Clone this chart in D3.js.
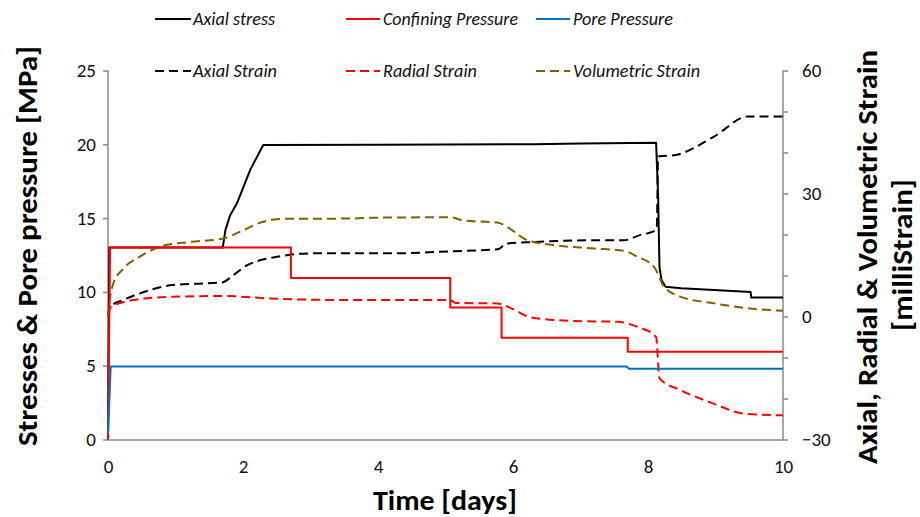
<!DOCTYPE html>
<html>
<head>
<meta charset="utf-8">
<script src="https://cdn.jsdelivr.net/npm/d3@7"></script>
<style>
  html, body { margin: 0; padding: 0; background: #fff; }
  svg { display: block; font-family: Carlito, Lato, "Open Sans", sans-serif; }
</style>
</head>
<body>
<svg id="chart" width="920" height="517"></svg>
<script>
// Time axis (days)
const timeTicks = [0, 2, 4, 6, 8, 10];
const stressTicks = [0, 5, 10, 15, 20, 25];
const strainTicks = [-30, 0, 30, 60];
const strainMinorTicks = [-30, -20, -10, 0, 10, 20, 30, 40, 50, 60];

// Stresses [MPa]
const axialStressT = [0, 0.02, 1.70, 1.74, 1.81, 1.91, 2.11, 2.30, 4.0, 6.3, 7.0, 8.12, 8.15, 8.17, 8.20, 8.26, 8.49, 8.98, 9.52, 9.53, 10];
const axialStress  = [0, 13, 13, 14.2, 15.2, 16.0, 18.3, 19.95, 19.97, 20.0, 20.05, 20.1, 16.5, 11.7, 10.8, 10.35, 10.25, 10.13, 10.0, 9.62, 9.62];

const confiningT = [0, 0.03, 2.71, 2.71, 5.07, 5.07, 5.83, 5.83, 7.70, 7.70, 10];
const confining  = [0, 13, 13, 10.95, 10.95, 8.95, 8.95, 6.9, 6.9, 5.95, 5.95];

const poreT = [0, 0.04, 7.68, 7.72, 10];
const pore  = [0.4, 4.95, 4.95, 4.8, 4.8];

// Strains [milliStrain]
const axialStrainT = [0, 0.04, 0.22, 0.5, 0.92, 1.3, 1.69, 1.85, 2.06, 2.25, 2.45, 3.0, 4.23, 5.07, 5.77, 5.91, 6.21, 7.2, 7.64, 7.89, 8.09, 8.13, 8.15, 8.41, 8.98, 9.48, 10];
const axialStrain  = [0, 2.5, 4.0, 5.8, 7.6, 8.0, 8.3, 10.0, 12.5, 13.7, 14.4, 15.4, 15.4, 15.9, 16.4, 17.8, 18.1, 18.6, 18.6, 19.9, 20.8, 21.5, 39.0, 39.4, 43.9, 48.8, 48.8];

const radialStrainT = [0, 0.03, 0.37, 0.92, 1.71, 2.4, 3.59, 5.07, 5.15, 5.77, 6.0, 6.26, 6.9, 7.55, 7.84, 8.12, 8.17, 8.49, 8.98, 9.43, 10];
const radialStrain  = [0.5, 2.2, 4.0, 4.8, 5.0, 4.4, 4.0, 4.0, 3.3, 3.2, 1.8, -0.2, -1.1, -1.3, -2.5, -5.0, -15.1, -18.0, -21.3, -23.7, -24.1];

const volStrainT = [0, 0.03, 0.08, 0.23, 0.47, 0.77, 1.22, 1.71, 1.96, 2.30, 2.55, 3.59, 3.94, 5.07, 5.27, 5.77, 5.91, 6.21, 6.61, 7.2, 7.65, 7.84, 8.09, 8.24, 8.49, 8.98, 9.48, 10];
const volStrain  = [0, 4.5, 8.1, 11.7, 14.6, 17.0, 18.2, 19.0, 20.7, 23.1, 23.8, 23.9, 24.1, 24.2, 23.4, 22.9, 21.9, 18.6, 17.4, 16.6, 16.0, 14.6, 12.1, 7.2, 4.8, 3.2, 2.0, 1.4];

const svg = d3.select("#chart");
const axisColor = "#8a8a8a";

const x = d3.scaleLinear().domain([0, 10]).range([108, 783]);
const yL = d3.scaleLinear().domain([0, 25]).range([439.5, 70.5]);
const yR = d3.scaleLinear().domain([-30, 60]).range([439.5, 70.5]);

// Axes
const gLeft = svg.append("g").attr("transform", `translate(${x(0)},0)`)
  .call(d3.axisLeft(yL).tickValues(stressTicks).tickSize(5).tickPadding(7).tickFormat(d3.format("d")));
const gRight = svg.append("g").attr("transform", `translate(${x(10)},0)`)
  .call(d3.axisRight(yR).tickValues(strainMinorTicks).tickSize(5).tickPadding(14)
    .tickFormat(d => strainTicks.includes(d) ? d3.format("d")(d) : ""));
const gBottom = svg.append("g").attr("transform", `translate(0,${yL(0)})`)
  .call(d3.axisBottom(x).tickValues(timeTicks).tickSize(0).tickPadding(18).tickFormat(d3.format("d")));

[gLeft, gRight, gBottom].forEach(g => {
  g.select(".domain").attr("stroke", axisColor).attr("stroke-width", 1.5);
  g.selectAll(".tick line").attr("stroke", axisColor).attr("stroke-width", 1.5);
  g.selectAll(".tick text").attr("fill", "#111").style("font-size", "19px")
    .style("font-family", "Carlito, Lato, sans-serif");
});
gLeft.select(".domain").attr("d", `M0,${yL(25)}V${yL(0)}`);
gRight.select(".domain").attr("d", `M0,${yR(60)}V${yR(-30)}`);
gRight.selectAll(".tick text").attr("x", 19);
gBottom.selectAll(".tick text").attr("dy", "0.35em").attr("y", 27);

// Series
const zip = (ts, vs) => ts.map((t, i) => [t, vs[i]]);
const lineL = d3.line().x(d => x(d[0])).y(d => yL(d[1]));
const lineR = d3.line().x(d => x(d[0])).y(d => yR(d[1])).curve(d3.curveMonotoneX);

const series = [
  { name: "Axial stress", data: zip(axialStressT, axialStress), line: lineL, color: "#000000", dash: null },
  { name: "Axial Strain", data: zip(axialStrainT, axialStrain), line: lineR, color: "#000000", dash: "9,5" },
  { name: "Radial Strain", data: zip(radialStrainT, radialStrain), line: lineR, color: "#ff0000", dash: "9,5" },
  { name: "Volumetric Strain", data: zip(volStrainT, volStrain), line: lineR, color: "#7f6000", dash: "9,5" },
  { name: "Confining Pressure", data: zip(confiningT, confining), line: lineL, color: "#ff0000", dash: null },
  { name: "Pore Pressure", data: zip(poreT, pore), line: lineL, color: "#0070c0", dash: null }
];

svg.append("g").selectAll("path").data(series).join("path")
  .attr("d", s => s.line(s.data))
  .attr("fill", "none")
  .attr("stroke", s => s.color)
  .attr("stroke-width", 2)
  .attr("stroke-linejoin", "round")
  .attr("stroke-dasharray", s => s.dash);

// Legend
const legendItems = [
  { name: "Axial stress", color: "#000000", dash: null, x0: 155, x1: 191, tx: 193, ty: 19, w: 82 },
  { name: "Confining Pressure", color: "#ff0000", dash: null, x0: 346, x1: 380, tx: 383, ty: 19, w: 135 },
  { name: "Pore Pressure", color: "#0070c0", dash: null, x0: 536, x1: 570, tx: 573, ty: 19, w: 100 },
  { name: "Axial Strain", color: "#000000", dash: "9,5", x0: 155, x1: 191, tx: 193, ty: 71, w: 84 },
  { name: "Radial Strain", color: "#ff0000", dash: "9,5", x0: 346, x1: 380, tx: 383, ty: 71, w: 94 },
  { name: "Volumetric Strain", color: "#7f6000", dash: "9,5", x0: 536, x1: 570, tx: 573, ty: 71, w: 127 }
];
const lg = svg.append("g").selectAll("g").data(legendItems).join("g");
lg.append("line")
  .attr("x1", d => d.x0).attr("x2", d => d.x1)
  .attr("y1", d => d.ty).attr("y2", d => d.ty)
  .attr("stroke", d => d.color).attr("stroke-width", 2)
  .attr("stroke-dasharray", d => d.dash);
lg.append("text")
  .attr("x", d => d.tx).attr("y", d => d.ty).attr("dy", "0.35em")
  .attr("textLength", d => d.w).attr("lengthAdjust", "spacingAndGlyphs")
  .style("font-style", "italic").style("font-size", "17.5px").attr("fill", "#111")
  .text(d => d.name);

// Axis titles
svg.append("text")
  .attr("transform", "translate(37,246) rotate(-90)")
  .attr("text-anchor", "middle")
  .attr("textLength", 400).attr("lengthAdjust", "spacingAndGlyphs")
  .style("font-weight", "bold").style("font-size", "29px").attr("fill", "#000")
  .text("Stresses & Pore pressure [MPa]");

svg.append("text")
  .attr("x", 445).attr("y", 510)
  .attr("text-anchor", "middle")
  .attr("textLength", 144).attr("lengthAdjust", "spacingAndGlyphs")
  .style("font-weight", "bold").style("font-size", "28px").attr("fill", "#000")
  .text("Time [days]");

svg.append("text")
  .attr("transform", "translate(877,257) rotate(-90)")
  .attr("text-anchor", "middle")
  .attr("textLength", 414).attr("lengthAdjust", "spacingAndGlyphs")
  .style("font-weight", "bold").style("font-size", "28px").attr("fill", "#000")
  .text("Axial, Radial & Volumetric Strain");

svg.append("text")
  .attr("transform", "translate(912,255) rotate(-90)")
  .attr("text-anchor", "middle")
  .attr("textLength", 152).attr("lengthAdjust", "spacingAndGlyphs")
  .style("font-weight", "bold").style("font-size", "28px").attr("fill", "#000")
  .text("[milliStrain]");
</script>
</body>
</html>
